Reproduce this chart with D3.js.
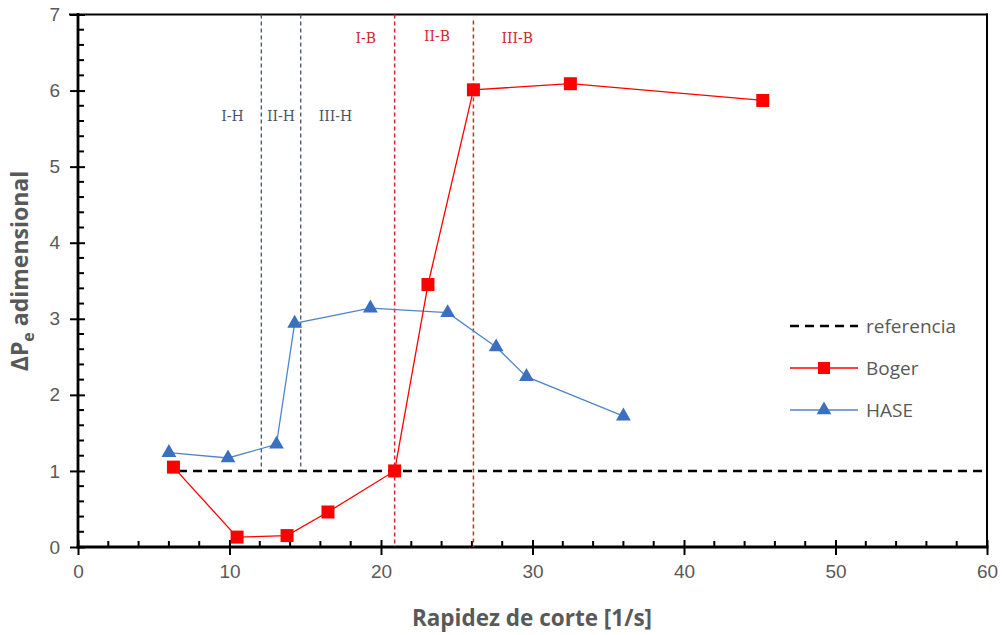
<!DOCTYPE html>
<html>
<head>
<meta charset="utf-8">
<script src="https://cdn.jsdelivr.net/npm/d3@7"></script>
<style>
body{margin:0;background:#fff;}
svg{font-family:"Open Sans","Noto Sans",sans-serif;}
</style>
</head>
<body>
<svg id="chart"></svg>
<script>
// data
var bogerX=[6.3,10.5,13.8,16.5,20.9,23.1,26.1,32.5,45.2]
var bogerY=[1.05,0.13,0.15,0.46,1.0,3.45,6.01,6.09,5.87]
var haseX=[6.0,9.9,13.1,14.3,19.3,24.4,27.6,29.6,36.0]
var haseY=[1.24,1.17,1.35,2.94,3.14,3.08,2.63,2.24,1.72]
var refX=[6.6,60]
var refY=[1,1]
var hLines=[12.1,14.7]
var bLines=[20.9,26.1]
var hLabels=[{t:"I-H",x:10.2},{t:"II-H",x:13.4},{t:"III-H",x:17.0}]
var bLabels=[{t:"I-B",x:19.0},{t:"II-B",x:23.7},{t:"III-B",x:29.0}]
var xTicks=[0,10,20,30,40,50,60]
var yTicks=[0,1,2,3,4,5,6,7]

var width=1003, height=635
var margins={top:14.5, left:78, right:16, bottom:88}

var svg=d3.select("#chart")
    .attr("width",width)
    .attr("height",height)

var x=d3.scaleLinear().domain([0,60]).range([margins.left,width-margins.right])
var y=d3.scaleLinear().domain([0,7]).range([height-margins.bottom,margins.top])

var grey="#595959"
var red="#FF0000"
var blueLine="#4F86C6"
var blueMark="#3A70BE"
var hColor="#44546A"
var bColor="#D0282E"

// axes (labels + major ticks)
var xAxis=d3.axisBottom(x).tickValues(xTicks).tickFormat(d3.format("d")).tickSize(8).tickSizeOuter(0).tickPadding(10)
var yAxis=d3.axisLeft(y).tickValues(yTicks).tickFormat(d3.format("d")).tickSize(8).tickSizeOuter(0).tickPadding(10)

var gx=svg.append("g")
    .attr("transform","translate(0,"+y(0)+")")
    .call(xAxis)
var gy=svg.append("g")
    .attr("transform","translate("+x(0)+",0)")
    .call(yAxis)

gx.select(".domain").remove()
gy.select(".domain").remove()
gx.selectAll(".tick line").attr("stroke","#000").attr("stroke-width",2).attr("y1",-7)
gy.selectAll(".tick line").attr("stroke","#000").attr("stroke-width",2).attr("x1",7)
gx.selectAll(".tick text").attr("fill",grey).attr("font-size",19)
gy.selectAll(".tick text").attr("fill",grey).attr("font-size",19)

// minor ticks (inside)
var xMinor=d3.range(0,61,2).filter(function(d){return d%10!=0})
var yMinor=d3.range(0,35).map(function(d){return d/5}).filter(function(d){return Math.abs(d-Math.round(d))>0.01})

svg.append("g").selectAll("line").data(xMinor).enter().append("line")
    .attr("x1",function(d){return x(d)}).attr("x2",function(d){return x(d)})
    .attr("y1",y(0)).attr("y2",y(0)-6)
    .attr("stroke","#000").attr("stroke-width",2)
svg.append("g").selectAll("line").data(yMinor).enter().append("line")
    .attr("x1",x(0)).attr("x2",x(0)+6)
    .attr("y1",function(d){return y(d)}).attr("y2",function(d){return y(d)})
    .attr("stroke","#000").attr("stroke-width",2)

// axis lines and frame
var frame=[
    [x(0),y(0),x(60),y(0),2.8],
    [x(0),y(0),x(0),y(7),2.8],
    [x(0)-8,y(7),x(60),y(7),2],
    [x(60),y(7),x(60),y(0),2]
]
svg.append("g").selectAll("line").data(frame).enter().append("line")
    .attr("x1",function(d){return d[0]}).attr("y1",function(d){return d[1]})
    .attr("x2",function(d){return d[2]}).attr("y2",function(d){return d[3]})
    .attr("stroke","#000").attr("stroke-width",function(d){return d[4]})
    .attr("stroke-linecap","square")

// region lines
svg.append("g").selectAll("line").data(hLines).enter().append("line")
    .attr("x1",function(d){return x(d)}).attr("x2",function(d){return x(d)})
    .attr("y1",y(7)).attr("y2",y(1))
    .attr("stroke",hColor).attr("stroke-width",1.3)
    .attr("stroke-dasharray","4,3")
svg.append("g").selectAll("line").data(bLines).enter().append("line")
    .attr("x1",function(d){return x(d)}).attr("x2",function(d){return x(d)})
    .attr("y1",function(d,i){return i==0?y(7):y(6.92)}).attr("y2",y(0))
    .attr("stroke",bColor).attr("stroke-width",1.5)
    .attr("stroke-dasharray","4,3")

svg.append("g").selectAll("text").data(hLabels).enter().append("text")
    .attr("x",function(d){return x(d.x)}).attr("y",y(5.6))
    .attr("text-anchor","middle")
    .attr("font-family","'DejaVu Serif','Liberation Serif',serif")
    .attr("font-size",14).attr("fill",hColor)
    .text(function(d){return d.t})
svg.append("g").selectAll("text").data(bLabels).enter().append("text")
    .attr("x",function(d){return x(d.x)}).attr("y",function(d,i){return i==1?y(6.65):y(6.62)})
    .attr("text-anchor","middle")
    .attr("font-family","'DejaVu Serif','Liberation Serif',serif")
    .attr("font-size",14).attr("fill",bColor)
    .text(function(d){return d.t})

// reference line
var line=d3.line().x(function(d){return x(d[0])}).y(function(d){return y(d[1])})
svg.append("path")
    .datum(d3.zip(refX,refY))
    .attr("d",line)
    .attr("fill","none").attr("stroke","#000").attr("stroke-width",2.5)
    .attr("stroke-dasharray","9,6")

// HASE
svg.append("path")
    .datum(d3.zip(haseX,haseY))
    .attr("d",line)
    .attr("fill","none").attr("stroke",blueLine).attr("stroke-width",1.3)
var tri=d3.symbol().type(d3.symbolTriangle).size(95)
svg.append("g").selectAll("path").data(d3.zip(haseX,haseY)).enter().append("path")
    .attr("d",tri)
    .attr("transform",function(d){return "translate("+x(d[0])+","+y(d[1])+")"})
    .attr("fill",blueMark)

// Boger
svg.append("path")
    .datum(d3.zip(bogerX,bogerY))
    .attr("d",line)
    .attr("fill","none").attr("stroke",red).attr("stroke-width",1.3)
svg.append("g").selectAll("rect").data(d3.zip(bogerX,bogerY)).enter().append("rect")
    .attr("x",function(d){return x(d[0])-6.5}).attr("y",function(d){return y(d[1])-6.5})
    .attr("width",13).attr("height",13)
    .attr("fill",red)

// legend
var legend=[
    {name:"referencia",type:"ref"},
    {name:"Boger",type:"boger"},
    {name:"HASE",type:"hase"}
]
var lg=svg.append("g").attr("transform","translate(790,326)")
legend.forEach(function(l,i){
    var g=lg.append("g").attr("transform","translate(0,"+(i*42)+")")
    if(l.type=="ref"){
        g.append("line").attr("x1",0).attr("x2",68).attr("y1",0).attr("y2",0)
            .attr("stroke","#000").attr("stroke-width",2.5).attr("stroke-dasharray","9,6")
    } else if(l.type=="boger"){
        g.append("line").attr("x1",0).attr("x2",68).attr("y1",0).attr("y2",0)
            .attr("stroke",red).attr("stroke-width",1.3)
        g.append("rect").attr("x",28).attr("y",-6).attr("width",12).attr("height",12).attr("fill",red)
    } else {
        g.append("line").attr("x1",0).attr("x2",68).attr("y1",0).attr("y2",0)
            .attr("stroke",blueLine).attr("stroke-width",1.3)
        g.append("path").attr("d",tri).attr("transform","translate(34,0)").attr("fill",blueMark)
    }
    g.append("text").attr("x",76).attr("y",0).attr("dy","0.35em")
        .attr("font-size",19).attr("fill",grey).text(l.name)
})

// axis titles
svg.append("text")
    .attr("x",532).attr("y",626)
    .attr("text-anchor","middle")
    .attr("font-size",22.5).attr("font-weight","bold").attr("fill",grey)
    .text("Rapidez de corte [1/s]")

var yt=svg.append("text")
    .attr("transform","translate(28,271) rotate(-90)")
    .attr("text-anchor","middle")
    .attr("font-size",23).attr("font-weight","bold").attr("fill",grey)
yt.append("tspan").text("ΔP")
yt.append("tspan").attr("font-size",16).attr("dy",6).text("e")
yt.append("tspan").attr("dy",-6).text(" adimensional")
</script>
</body>
</html>
